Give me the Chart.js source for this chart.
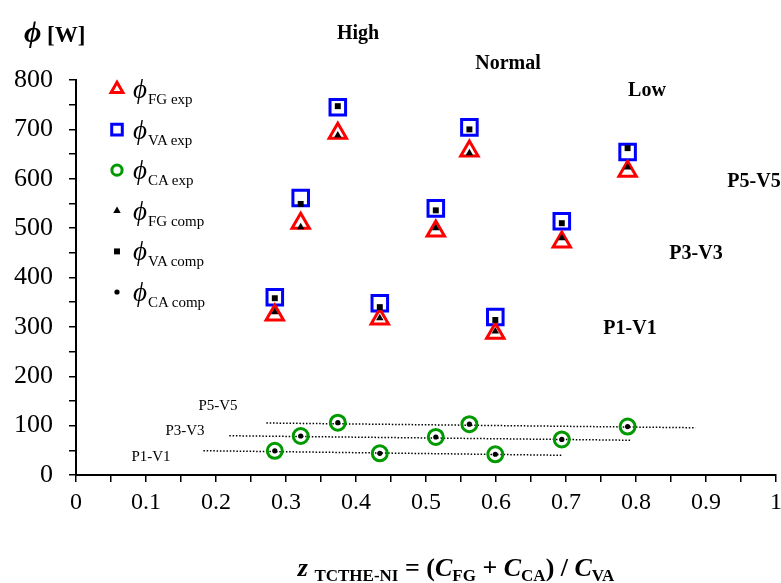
<!DOCTYPE html>
<html><head><meta charset="utf-8">
<script src="https://cdn.jsdelivr.net/npm/chart.js@4/dist/chart.umd.min.js"></script>
<style>
html,body{margin:0;padding:0;background:#fff;overflow:hidden;width:781px;height:583px;}
#wrap{position:relative;width:781px;height:583px;overflow:hidden;}
canvas{position:absolute;left:0;top:0;}
.t{position:absolute;font-family:"Liberation Serif","Times New Roman",serif;color:#000;white-space:nowrap;line-height:1;}
.b{font-weight:bold;}
.c{transform:translate(-50%,-50%);}
.lg{font-size:27px;font-style:italic;transform:translateY(-50%);}
.lg sub{font-style:normal;font-size:15px;vertical-align:baseline;position:relative;top:6px;margin-left:1px;}
.xt{font-size:26px;}
.xt sub{font-size:17px;vertical-align:baseline;position:relative;top:5px;}
</style></head>
<body>
<div id="wrap">
<canvas id="c" width="790" height="583"></canvas>
<div class="t b" style="left:24px;top:32px;transform:translateY(-50%);"><span style="font-style:italic;font-size:30px;">ϕ</span><span style="font-size:23px;"> [W]</span></div>
<div class="t b c" style="left:358px;top:32px;font-size:20px;">High</div>
<div class="t b c" style="left:508px;top:62px;font-size:20px;">Normal</div>
<div class="t b c" style="left:647px;top:89px;font-size:20px;">Low</div>
<div class="t b c" style="left:754px;top:180px;font-size:20px;">P5-V5</div>
<div class="t b c" style="left:696px;top:252px;font-size:20px;">P3-V3</div>
<div class="t b c" style="left:630px;top:327px;font-size:20px;">P1-V1</div>
<div class="t c" style="left:218px;top:405px;font-size:15px;">P5-V5</div>
<div class="t c" style="left:185px;top:430px;font-size:15px;">P3-V3</div>
<div class="t c" style="left:151px;top:456px;font-size:15px;">P1-V1</div>
<div class="t lg" style="left:133px;top:89px;">ϕ<sub>FG exp</sub></div>
<div class="t lg" style="left:133px;top:130px;">ϕ<sub>VA exp</sub></div>
<div class="t lg" style="left:133px;top:170px;">ϕ<sub>CA exp</sub></div>
<div class="t lg" style="left:133px;top:211px;">ϕ<sub>FG comp</sub></div>
<div class="t lg" style="left:133px;top:251px;">ϕ<sub>VA comp</sub></div>
<div class="t lg" style="left:133px;top:292px;">ϕ<sub>CA comp</sub></div>
<div class="t b c xt" style="left:456px;top:568px;"><i>z</i> <sub>TCTHE-NI</sub> = (<i>C</i><sub>FG</sub> + <i>C</i><sub>CA</sub>) / <i>C</i><sub>VA</sub></div>
</div>
<script>
// z values: High (P1,P3,P5), Normal (P1,P3,P5), Low (P1,P3,P5)
const zValues = [0.284, 0.321, 0.374, 0.434, 0.514, 0.562, 0.599, 0.694, 0.788];
const fgExp  = [324, 510, 692, 316, 494, 656, 287, 472, 615];
const vaExp  = [360, 561, 745, 348, 540, 704, 320, 514, 654];
const caExp  = [49, 79, 106, 44, 77, 103, 42, 72, 98];
const fgComp = [330, 502, 688, 318, 500, 652, 291, 480, 623];
const vaComp = [358, 549, 747, 340, 536, 700, 314, 510, 662];
const caComp = [49, 79, 106, 44, 77, 103, 42, 72, 98];
// dotted trend lines for phi_CA (start/end)
const trendP1z = [0.182, 0.695], trendP1v = [49.2, 39.9];
const trendP3z = [0.219, 0.792], trendP3v = [79.5, 70.4];
const trendP5z = [0.272, 0.885], trendP5v = [105.3, 95.7];
const xTicksMajor = [0, 0.1, 0.2, 0.3, 0.4, 0.5, 0.6, 0.7, 0.8, 0.9, 1];
const yTicksMajor = [0, 100, 200, 300, 400, 500, 600, 700, 800];

const pts = (xs, ys) => xs.map((x, i) => ({x: x, y: ys[i]}));
const RED = '#ff0000', BLUE = '#0000ff', GREEN = '#009900';

function markerDs(label, ys, style, color, radius, bw, filled, order) {
  return {label, data: pts(zValues, ys), showLine: false, order,
    pointStyle: style, pointRadius: radius, pointHoverRadius: radius,
    pointBorderColor: color, pointBackgroundColor: filled ? color : 'rgba(0,0,0,0)',
    pointBorderWidth: bw};
}
function trendDs(label, xs, ys) {
  return {label, data: pts(xs, ys), showLine: true, pointRadius: 0, order: 5,
    borderColor: '#000', borderWidth: 1.5, borderDash: [1.5, 1.8], fill: false};
}
const datasets = [
  markerDs('FG comp', fgComp, 'triangle', '#000', 4.3, 0, true, 0),
  markerDs('VA comp', vaComp, 'rect', '#000', 4.2, 0, true, 0),
  markerDs('CA comp', caComp, 'circle', '#000', 2.6, 0, true, 0),
  markerDs('FG exp', fgExp, 'triangle', RED, 10, 3, false, 1),
  markerDs('VA exp', vaExp, 'rect', BLUE, 11, 3, false, 1),
  markerDs('CA exp', caExp, 'circle', GREEN, 7.5, 3, false, 1),
  trendDs('P1-V1', trendP1z, trendP1v),
  trendDs('P3-V3', trendP3z, trendP3v),
  trendDs('P5-V5', trendP5z, trendP5v)
];

const legendOrder = ['FG exp', 'VA exp', 'CA exp', 'FG comp', 'VA comp', 'CA comp'];
const legendPlugin = {
  id: 'legendMarkers',
  afterDraw(chart) {
    const ctx = chart.ctx;
    legendOrder.forEach((name, i) => {
      const ds = chart.data.datasets.find(d => d.label === name);
      const y = 89 + i * 40.6;
      ctx.save();
      ctx.fillStyle = ds.pointBackgroundColor;
      ctx.strokeStyle = ds.pointBorderColor;
      ctx.lineWidth = ds.pointBorderWidth;
      const r = ds.pointRadius * (ds.pointBorderWidth ? 0.68 : 1);
      Chart.helpers.drawPoint(ctx, {pointStyle: ds.pointStyle, radius: r, rotation: 0, borderWidth: ds.pointBorderWidth}, 117, y);
      ctx.restore();
    });
  }
};

new Chart(document.getElementById('c'), {
  type: 'scatter',
  data: {datasets},
  plugins: [legendPlugin],
  options: {
    responsive: false, animation: false,
    layout: {padding: {top: 80, right: 5, left: 0, bottom: 0}},
    plugins: {legend: {display: false}, tooltip: {enabled: false}},
    scales: {
      x: {type: 'linear', min: 0, max: 1, position: 'bottom',
        ticks: {stepSize: 0.05, autoSkip: false, maxRotation: 0, color: '#000', padding: 6,
          font: {family: 'Liberation Serif', size: 24},
          callback: (v) => { const r = Math.round(v * 100); return r % 10 === 0 ? String(xTicksMajor[r / 10]) : ''; }},
        grid: {drawOnChartArea: false, drawTicks: true, tickLength: 7, color: '#000', lineWidth: 1.5},
        border: {color: '#000', width: 2},
        afterFit: (s) => { s.height = 108; s.paddingLeft = 0; s.paddingRight = 0; }
      },
      y: {type: 'linear', min: 0, max: 800,
        ticks: {stepSize: 50, autoSkip: false, color: '#000', padding: 16,
          font: {family: 'Liberation Serif', size: 26},
          callback: (v) => { const r = Math.round(v); return r % 100 === 0 ? String(yTicksMajor[r / 100]) : ''; }},
        grid: {drawOnChartArea: false, drawTicks: true, tickLength: 7, color: '#000', lineWidth: 1.5},
        border: {color: '#000', width: 2},
        afterFit: (s) => { s.width = 76; s.paddingTop = 0; s.paddingBottom = 0; }
      }
    }
  }
});
</script>
</body></html>
